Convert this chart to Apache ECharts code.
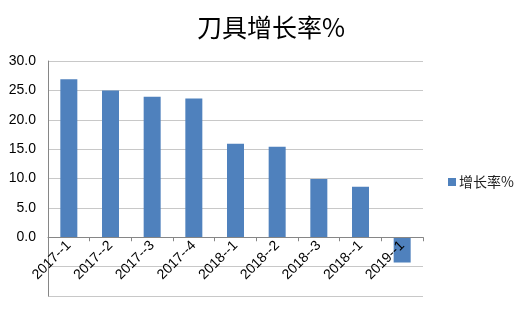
<!DOCTYPE html>
<html>
<head>
<meta charset="utf-8">
<script src="https://cdn.jsdelivr.net/npm/echarts@6/dist/echarts.min.js"></script>
<style>html,body{margin:0;padding:0;background:#fff;}#c{width:525px;height:309px;}</style>
</head>
<body>
<div id="c"></div>
<script>
const categories = ['2017--1','2017--2','2017--3','2017--4','2018--1','2018--2','2018--3','2018--1','2019--1'];
const growth = [26.9, 25.0, 23.9, 23.6, 15.9, 15.4, 9.9, 8.6, -4.3];
const seriesName = '增长率%';
const titleText = '刀具增长率%';
const yMin = -10, yMax = 30;

const gridTop = 61, gridBottom = 13, H = 309;
const plotH = H - gridTop - gridBottom;
const zeroOffset = -plotH * (0 - yMin) / (yMax - yMin);

const chart = echarts.init(document.getElementById('c'));
chart.setOption({
  animation: false,
  backgroundColor: '#fff',
  title: {
    text: titleText,
    left: 266, top: 10, textAlign: 'center',
    textStyle: { fontSize: 25, fontWeight: 'normal', color: '#000', fontFamily: 'Noto Sans CJK SC' }
  },
  legend: {
    data: [seriesName],
    orient: 'vertical',
    left: 443, top: 170,
    icon: 'rect', itemWidth: 8, itemHeight: 8, itemGap: 6,
    textStyle: { fontSize: 14, color: '#222', fontFamily: 'Noto Sans CJK SC', padding: [0,0,0,-2] }
  },
  grid: { left: 48, top: gridTop, right: 102, bottom: gridBottom, containLabel: false, outerBoundsMode: 'none' },
  xAxis: {
    type: 'category',
    data: categories,
    offset: zeroOffset,
    z: 5,
    axisLine: { onZero: false, lineStyle: { color: '#868686', width: 1 } },
    axisTick: { show: true, alignWithLabel: false, length: 4, lineStyle: { color: '#868686' } },
    axisLabel: { rotate: 45, fontSize: 14, color: '#000', margin: 6, fontFamily: 'Liberation Sans', interval: 0 },
    splitLine: { show: false }
  },
  yAxis: {
    type: 'value',
    min: yMin, max: yMax, interval: 5,
    axisLine: { show: true, lineStyle: { color: '#868686' } },
    axisTick: { show: false },
    axisLabel: {
      fontSize: 14, color: '#000', margin: 12, fontFamily: 'Liberation Sans',
      formatter: v => v < 0 ? '' : v.toFixed(1)
    },
    splitLine: { show: true, lineStyle: { color: '#C8C8C8', width: 1 } }
  },
  series: [{
    name: seriesName,
    type: 'bar',
    data: growth,
    barWidth: 17,
    itemStyle: { color: '#4F81BD' }
  }]
});
</script>
</body>
</html>
